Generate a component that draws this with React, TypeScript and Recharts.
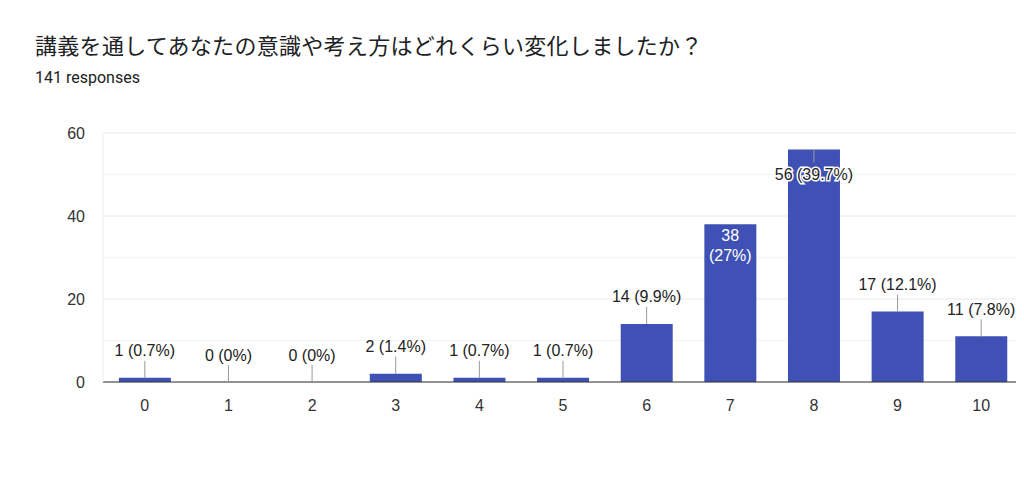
import React from 'react';
import {
  ComposedChart, Bar, Line, XAxis, YAxis, CartesianGrid,
} from 'recharts';

const categories = ['0', '1', '2', '3', '4', '5', '6', '7', '8', '9', '10'];
const counts = [1, 0, 0, 2, 1, 1, 14, 38, 56, 17, 11];
const percents = ['0.7%', '0%', '0%', '1.4%', '0.7%', '0.7%', '9.9%', '27%', '39.7%', '12.1%', '7.8%'];
const yTicks = [0, 20, 40, 60];
const minorLines = [10, 30, 50];

const data = categories.map((c, i) => ({ name: c, count: counts[i], pct: percents[i] }));

const FONT = 'Roboto, "Noto Sans CJK JP", "Noto Sans", sans-serif';
const CHART_FONT = 'Arial, "Liberation Sans", sans-serif';

// labels are hung on an invisible line so that zero-height bars get one too
function BarLabel(props: any) {
  const { x, y, index } = props;
  const v = counts[index];
  const cx = x;
  const text = `${v} (${percents[index]})`;

  if (v > 50) {
    // no room above the bar: drawn over it with a white halo
    return (
      <g>
        <line x1={cx} x2={cx} y1={y} y2={y + 13} stroke="#999" strokeWidth={1} />
        <text x={cx} y={y + 25} textAnchor="middle" dominantBaseline="central"
          fontSize={16} fill="#222" stroke="#fff" strokeWidth={3} paintOrder="stroke" fontFamily={CHART_FONT}>
          {text}
        </text>
      </g>
    );
  }
  if (v > 30) {
    return (
      <text x={cx} y={y + 11} textAnchor="middle" fontSize={16} fill="#fff" fontFamily={CHART_FONT}>
        <tspan x={cx} dy="0.35em">{v}</tspan>
        <tspan x={cx} dy="1.25em">({percents[index]})</tspan>
      </text>
    );
  }
  return (
    <g>
      <line x1={cx} x2={cx} y1={y - 17} y2={y} stroke="#999" strokeWidth={1} />
      <text x={cx} y={y - 27} textAnchor="middle" dominantBaseline="central"
        fontSize={16} fill="#222" fontFamily={CHART_FONT}>
        {text}
      </text>
    </g>
  );
}

export default function App() {
  return (
    <div style={{ position: 'relative', width: 1016, height: 479, fontFamily: FONT, background: '#fff' }}>
      <div style={{ position: 'absolute', left: 27, top: 26, fontSize: 22, lineHeight: '26px', color: '#202124', letterSpacing: 0.3, whiteSpace: 'nowrap' }}>
        講義を通してあなたの意識や考え方はどれくらい変化しましたか？
      </div>
      <div style={{ position: 'absolute', left: 27, top: 60, fontSize: 16, lineHeight: '20px', color: '#202124' }}>
        141 responses
      </div>
      <div style={{ position: 'absolute', left: 0, top: 0 }}>
        <ComposedChart
          width={1016}
          height={479}
          data={data}
          margin={{ top: 125, right: 1, left: 55, bottom: 75 }}
          barCategoryGap="19%"
        >
          <CartesianGrid vertical={false} stroke="#f3f3f3" horizontalValues={minorLines} />
          <CartesianGrid vertical={false} stroke="#e8e8e8" horizontalValues={yTicks} />
          <XAxis
            dataKey="name"
            height={30}
            tickLine={false}
            axisLine={{ stroke: '#333' }}
            tick={{ fontSize: 16, fill: '#333', fontFamily: CHART_FONT }}
            tickMargin={18}
            tickSize={0}
          />
          <YAxis
            width={40}
            domain={[0, 60]}
            ticks={yTicks}
            tickLine={false}
            axisLine={{ stroke: '#eeeeee' }}
            tick={{ fontSize: 16, fill: '#333', fontFamily: CHART_FONT }}
            tickSize={0}
            tickMargin={18}
          />
          <Bar dataKey="count" fill="#3f51b5" isAnimationActive={false} />
          <Line
            dataKey="count"
            stroke="none"
            dot={false}
            activeDot={false}
            legendType="none"
            isAnimationActive={false}
            label={<BarLabel />}
          />
        </ComposedChart>
      </div>
    </div>
  );
}
